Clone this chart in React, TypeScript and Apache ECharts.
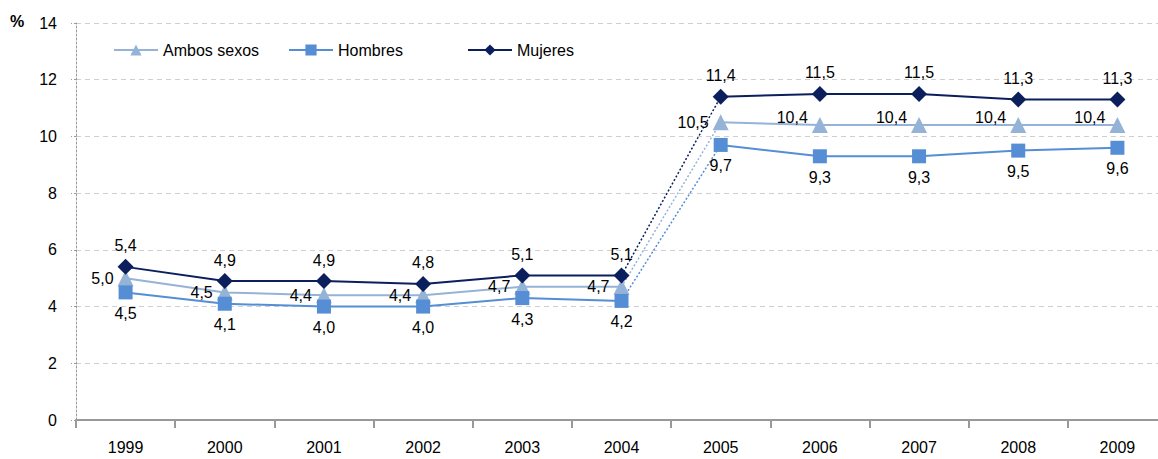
import React, { useEffect, useRef } from "react";
import * as echarts from "echarts";

const years = ["1999", "2000", "2001", "2002", "2003", "2004", "2005", "2006", "2007", "2008", "2009"];
const ambos = [5.0, 4.5, 4.4, 4.4, 4.7, 4.7, 10.5, 10.4, 10.4, 10.4, 10.4];
const hombres = [4.5, 4.1, 4.0, 4.0, 4.3, 4.2, 9.7, 9.3, 9.3, 9.5, 9.6];
const mujeres = [5.4, 4.9, 4.9, 4.8, 5.1, 5.1, 11.4, 11.5, 11.5, 11.3, 11.3];
const yTicks = [0, 2, 4, 6, 8, 10, 12, 14];
const legendNames = ["Ambos sexos", "Hombres", "Mujeres"];
const breakIndex = 6; // first year of the new series (2005)

const C_AMBOS = "#95B3D7";
const C_HOMBRES = "#558ED5";
const C_MUJERES = "#0B1F5C";
const FONT = "Liberation Sans, Arial, sans-serif";
const FS = 16;

const fmt = (v: number) => v.toFixed(1).replace(".", ",");

function part(values: number[], from: number, to: number) {
  return values.map((v, i) => (i >= from && i <= to ? v : "-"));
}

export default function App() {
  const ref = useRef<HTMLDivElement>(null);
  useEffect(() => {
    if (!ref.current) return;
    const chart = echarts.init(ref.current, undefined, { renderer: "svg" });

    const labelBase = { show: true, color: "#000", fontFamily: FONT, fontSize: FS };

    const ambosData = (from: number, to: number) =>
      ambos.map((v, i) => {
        if (i < from || i > to) return "-";
        return {
          value: v,
          label: { offset: [0, i > breakIndex ? -8 : 0] },
        };
      });

    const makeSolid = (name: string, data: any[], color: string, symbol: string, size: number, label: any, z: number) => ({
      name,
      type: "line",
      data,
      symbol,
      symbolSize: size,
      showAllSymbol: true,
      lineStyle: { color, width: 2 },
      itemStyle: { color },
      label,
      z,
    });

    const connector = (values: number[], color: string, z: number) => ({
      name: "_conn",
      type: "line",
      data: part(values, breakIndex - 1, breakIndex),
      symbol: "none",
      lineStyle: { color, width: 1.5, type: [2, 2] },
      z,
      silent: true,
    });

    const ambosLabel = { ...labelBase, position: "left", distance: 4, formatter: (p: any) => fmt(p.value) };
    const hombresLabel = { ...labelBase, position: "bottom", distance: 6, formatter: (p: any) => fmt(p.value) };
    const mujeresLabel = { ...labelBase, position: "top", distance: 5, formatter: (p: any) => fmt(p.value) };

    const legendLefts = [113, 288, 467];

    chart.setOption({
      animation: false,
      textStyle: { fontFamily: FONT },
      grid: { left: 76, top: 23, width: 1091, height: 397, containLabel: false },
      legend: legendNames.map((n, i) => ({
        data: [n],
        left: legendLefts[i],
        top: 42,
        padding: 0,
        itemWidth: 44,
        itemHeight: 14,
        itemGap: 6,
        textStyle: { fontFamily: FONT, fontSize: FS, color: "#000" },
      })),
      xAxis: {
        type: "category",
        data: years,
        boundaryGap: true,
        axisLine: { show: true, lineStyle: { color: "#999", width: 2 } },
        axisTick: { show: true, length: 8, lineStyle: { color: "#999", width: 2 } },
        axisLabel: { color: "#000", fontFamily: FONT, fontSize: FS, margin: 19 },
      },
      yAxis: {
        type: "value",
        min: 0,
        max: 14,
        interval: 2,
        axisLine: { show: true, lineStyle: { color: "#999", type: [2, 2], width: 1 } },
        axisTick: { show: true, length: 5, inside: false, lineStyle: { color: "#999", type: [2, 2] } },
        axisLabel: { color: "#000", fontFamily: FONT, fontSize: FS, margin: 19, formatter: (v: number) => (yTicks.includes(v) ? String(v) : "") },
        splitLine: { show: true, lineStyle: { color: "#cfcfcf", type: [5, 4], width: 1 } },
      },
      graphic: [
        {
          type: "text",
          left: 10,
          top: 13,
          style: { text: "%", fontFamily: FONT, fontSize: FS, fontWeight: "bold", fill: "#000" },
        },
      ],
      series: [
        connector(ambos, C_AMBOS, 1),
        connector(hombres, C_HOMBRES, 1),
        connector(mujeres, C_MUJERES, 1),
        makeSolid("Ambos sexos", ambosData(0, breakIndex - 1), C_AMBOS, "triangle", 16, ambosLabel, 2),
        makeSolid("Ambos sexos", ambosData(breakIndex, years.length - 1), C_AMBOS, "triangle", 16, ambosLabel, 2),
        makeSolid("Hombres", part(hombres, 0, breakIndex - 1), C_HOMBRES, "rect", 14, hombresLabel, 3),
        makeSolid("Hombres", part(hombres, breakIndex, years.length - 1), C_HOMBRES, "rect", 14, hombresLabel, 3),
        makeSolid("Mujeres", part(mujeres, 0, breakIndex - 1), C_MUJERES, "diamond", 16, mujeresLabel, 4),
        makeSolid("Mujeres", part(mujeres, breakIndex, years.length - 1), C_MUJERES, "diamond", 16, mujeresLabel, 4),
      ],
    });
    return () => chart.dispose();
  }, []);
  return (
    <div style={{ width: 1158, height: 459, position: "absolute", left: 0, top: 0, overflow: "hidden" }}>
      <div ref={ref} style={{ width: 1170, height: 459 }} />
    </div>
  );
}
